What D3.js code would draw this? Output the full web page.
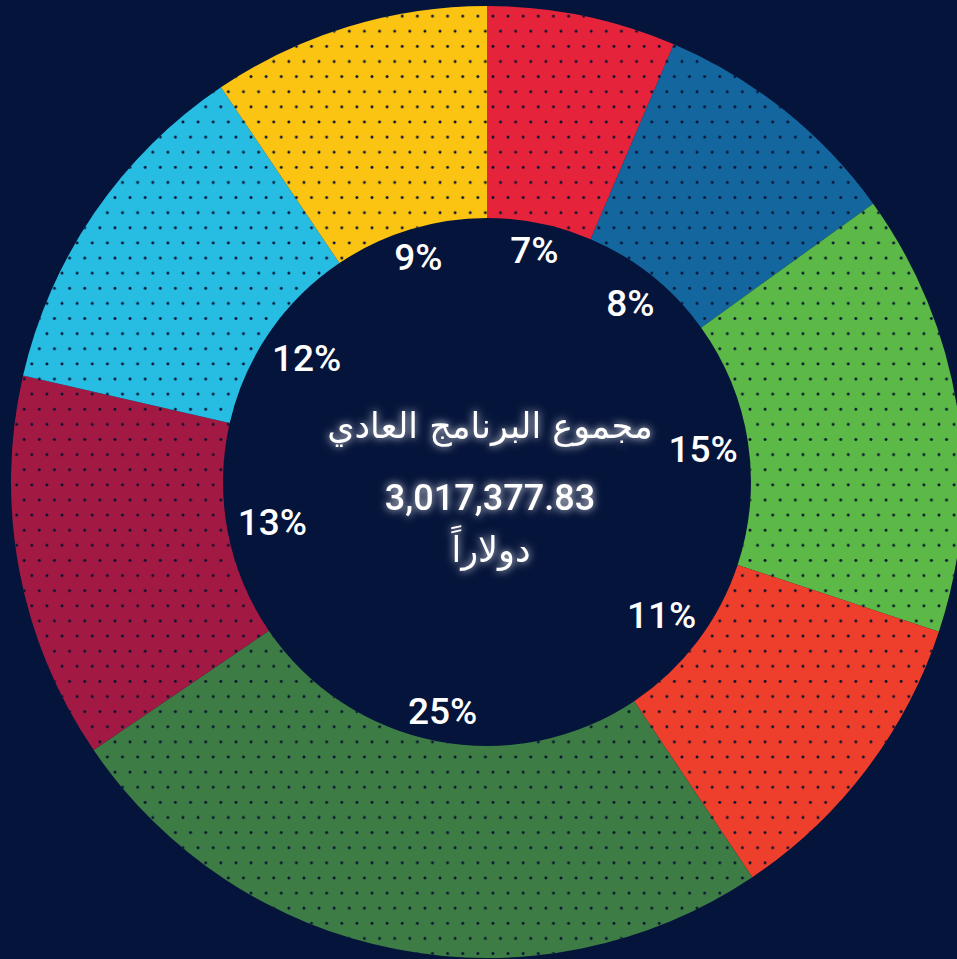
<!DOCTYPE html>
<html>
<head>
<meta charset="utf-8">
<script src="https://cdn.jsdelivr.net/npm/d3@7"></script>
<style>
  html, body { margin: 0; padding: 0; background: #05143a; }
  #wrapper { width: 957px; height: 959px; overflow: hidden; }
</style>
</head>
<body>
<div id="wrapper"></div>
<script>
const shares = [6.42, 8.64, 15.03, 10.5, 24.89, 13.11, 11.97, 9.44];
const percentLabels = ["7%", "8%", "15%", "11%", "25%", "13%", "12%", "9%"];
const colors = ["#e5243b", "#14679e", "#5cb947", "#ee3f2c", "#3d7d45", "#a21a43", "#27bde3", "#fbc413"];
const centreTitle = "مجموع البرنامج العادي";
const totalText = "3,017,377.83";
const currencyText = "دولاراً";

function buildChart() {
    const dimension = {
        width: 957,
        height: 959,
        cx: 487,
        cy: 482,
        outer: 476,
        inner: 264
    };
    const bg = "#05143a";
    const dotColor = "#071131";

    const svg = d3.select("#wrapper").append("svg")
        .attr("width", dimension.width)
        .attr("height", dimension.height);

    const defs = svg.append("defs");

    // staggered dot grid
    const step = 15.12;
    const pattern = defs.append("pattern")
        .attr("id", "dots")
        .attr("patternUnits", "userSpaceOnUse")
        .attr("x", 13.52)
        .attr("y", 2.9)
        .attr("width", step)
        .attr("height", step * 2);
    [[0, 0], [step, 0], [0, step * 2], [step, step * 2], [step / 2, step]].forEach(p => {
        pattern.append("circle")
            .attr("cx", p[0])
            .attr("cy", p[1])
            .attr("r", 1.45)
            .attr("fill", dotColor);
    });

    // soft white glow for the centre text
    const glow = defs.append("filter")
        .attr("id", "glow")
        .attr("x", "-20%").attr("y", "-50%")
        .attr("width", "140%").attr("height", "200%");
    glow.append("feGaussianBlur").attr("in", "SourceAlpha").attr("stdDeviation", 4).attr("result", "blur");
    glow.append("feFlood").attr("flood-color", "#ffffff").attr("flood-opacity", 0.9);
    glow.append("feComposite").attr("in2", "blur").attr("operator", "in").attr("result", "halo");
    const merge = glow.append("feMerge");
    merge.append("feMergeNode").attr("in", "halo");
    merge.append("feMergeNode").attr("in", "SourceGraphic");

    svg.append("rect")
        .attr("width", dimension.width)
        .attr("height", dimension.height)
        .attr("fill", bg);

    const pie = d3.pie().sort(null).value(d => d)(shares);
    const arc = d3.arc()
        .innerRadius(dimension.inner)
        .outerRadius(dimension.outer);

    const bounded = svg.append("g")
        .attr("transform", `translate(${dimension.cx},${dimension.cy})`);

    bounded.selectAll("path.slice")
        .data(pie)
        .join("path")
        .attr("class", "slice")
        .attr("d", arc)
        .attr("fill", (d, i) => colors[i]);

    // dots drawn in page coordinates so the grid stays straight
    svg.append("g")
        .selectAll("path")
        .data(pie)
        .join("path")
        .attr("transform", `translate(${dimension.cx},${dimension.cy})`)
        .attr("d", arc)
        .attr("fill", "url(#dots)");

    // percent labels, pushed out until the box corner meets the hole edge
    const fs = 37;
    const hh = 13;
    const edge = 255;
    const labels = bounded.selectAll("text.pct")
        .data(pie)
        .join("text")
        .attr("class", "pct")
        .attr("text-anchor", "middle")
        .attr("fill", "#ffffff")
        .style("font-family", "Roboto, 'Noto Sans', sans-serif")
        .style("font-weight", 500)
        .style("font-size", fs + "px")
        .text((d, i) => percentLabels[i]);

    labels.each(function(d) {
        const a = (d.startAngle + d.endAngle) / 2;
        const hw = this.getComputedTextLength() / 2;
        const u = Math.abs(Math.sin(a));
        const v = Math.abs(Math.cos(a));
        const b = u * hw + v * hh;
        const c = hw * hw + hh * hh - edge * edge;
        const r = -b + Math.sqrt(b * b - c);
        d3.select(this)
            .attr("x", r * Math.sin(a))
            .attr("y", -r * Math.cos(a) + 13);
    });

    // centre text
    const centre = svg.append("g")
        .attr("filter", "url(#glow)")
        .attr("fill", "#ffffff")
        .attr("text-anchor", "middle");

    centre.append("text")
        .attr("x", 490)
        .attr("y", 438)
        .attr("direction", "rtl")
        .style("font-family", "'DejaVu Sans', sans-serif")
        .style("font-size", "35px")
        .text(centreTitle);

    centre.append("text")
        .attr("x", 490)
        .attr("y", 510)
        .style("font-family", "Roboto, 'Noto Sans', sans-serif")
        .style("font-weight", 500)
        .style("font-size", "36px")
        .text(totalText);

    centre.append("text")
        .attr("x", 491)
        .attr("y", 562)
        .attr("direction", "rtl")
        .style("font-family", "'DejaVu Sans', sans-serif")
        .style("font-size", "35px")
        .text(currencyText);
}

buildChart();
</script>
</body>
</html>
